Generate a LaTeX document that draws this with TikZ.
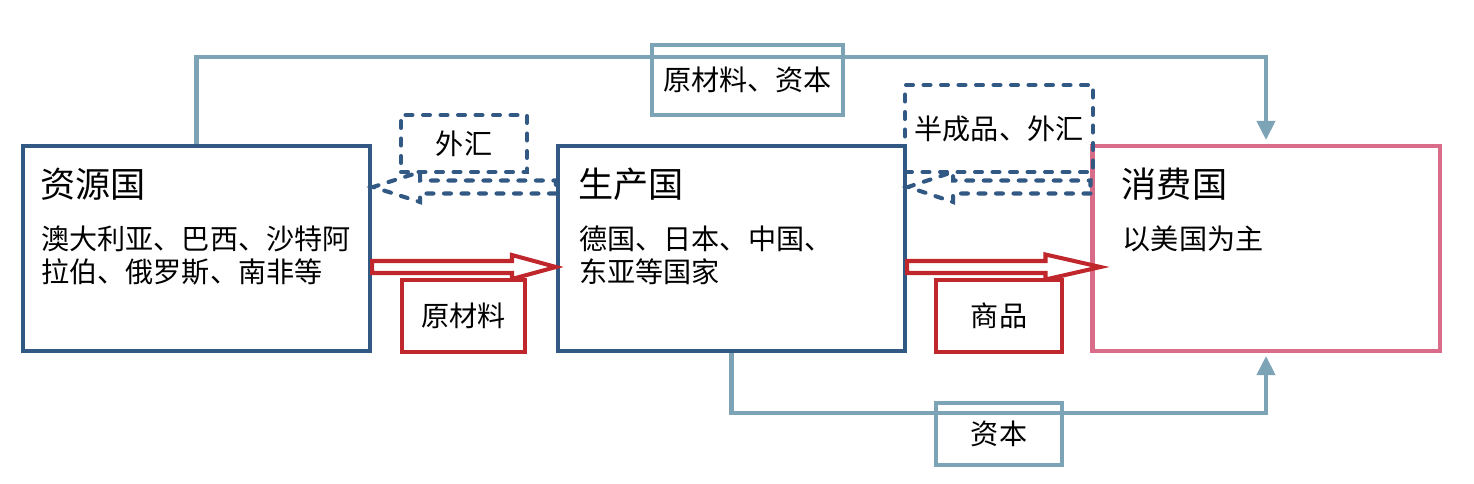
\documentclass[tikz,border=0pt]{standalone}
\usepackage{fontspec}
\newfontfamily\cjk{Noto Sans CJK SC}
\usepackage{xcolor}
\definecolor{Navy}{HTML}{325884}
\definecolor{Rose}{HTML}{D96C88}
\definecolor{Crimson}{HTML}{C0272D}
\definecolor{Steel}{HTML}{7DA3B7}
\usepackage{tikz}
\usetikzlibrary{arrows.meta,calc}

% block arrow from tail #2 to tip #3: half body #4, half head #5, head length #6
\newcommand{\blockarrow}[6]{%
  \coordinate (ba-h) at ($(#3)!#6!(#2)$);
  \draw[#1] ($(#2)!#4!90:(#3)$) -- ($(ba-h)!#4!90:(#3)$) -- ($(ba-h)!#5!90:(#3)$) -- (#3)
     -- ($(ba-h)!#5!-90:(#3)$) -- ($(ba-h)!#4!-90:(#3)$) -- ($(#2)!#4!-90:(#3)$) -- cycle;}

\begin{document}
\begin{tikzpicture}[
    >={Triangle[length=0.38cm,width=0.36cm]},
    country/.style={draw=Navy,line width=2.3pt,minimum width=6.94cm,minimum height=4.10cm,inner sep=0},
    head/.style={font=\cjk\fontsize{20}{24}\selectfont,anchor=base west,inner sep=0},
    body/.style={font=\cjk\fontsize{16}{18.7}\selectfont,align=left,anchor=base west,inner sep=0},
    tag/.style={font=\cjk\fontsize{16}{19}\selectfont,line width=2.3pt,inner sep=0},
    goods/.style={draw=Crimson,line width=2.3pt,line join=miter},
    money/.style={draw=Navy,line width=2.3pt,line cap=round,dash pattern=on 0.14cm off 0.21cm},
    capital/.style={draw=Steel,line width=2.3pt,->},
  ]
  \useasboundingbox (0,0) rectangle (29.48,9.66);

  % ---------- the three kinds of country ----------
  \node[country] (res) at (3.93,4.69) {};
  \node[country] (prod) at (14.63,4.69) {};
  \node[country,draw=Rose] (cons) at (25.32,4.69) {};

  \node[head] (resT) at ([shift={(0.38,-1.07)}]res.north west) {资源国};
  \node[body] (resB) at ([shift={(0.40,-2.77)}]res.north west) {澳大利亚、巴西、沙特阿\\拉伯、俄罗斯、南非等};
  \node[head] (prodT) at ([shift={(0.44,-1.07)}]prod.north west) {生产国};
  \node[body] (prodB) at ([shift={(0.46,-2.77)}]prod.north west) {德国、日本、中国、\\东亚等国家};
  \node[head] (consT) at ([shift={(0.62,-1.07)}]cons.north west) {消费国};
  \node[body] (consB) at ([shift={(0.64,-2.11)}]cons.north west) {以美国为主};

  % ---------- goods flow (red block arrows) ----------
  \coordinate (g1s) at (res.east |- 0,4.32);
  \coordinate (g1e) at (prod.west |- 0,4.32);
  \coordinate (g2s) at (prod.east |- 0,4.32);
  \coordinate (g2e) at ([xshift=0.2cm]cons.west |- 0,4.32);
  \blockarrow{goods}{g1s}{g1e}{0.12cm}{0.24cm}{0.88cm}
  \blockarrow{goods}{g2s}{g2e}{0.12cm}{0.25cm}{1.10cm}
  \node[tag,draw=Crimson,minimum width=2.46cm,minimum height=1.44cm] (raw) at (9.27,3.34) {原材料};
  \node[tag,draw=Crimson,minimum width=2.52cm,minimum height=1.44cm] (ware) at (19.98,3.34) {商品};

  % ---------- money flow back (dashed block arrows) ----------
  \coordinate (m1s) at (prod.west |- 0,5.92);
  \coordinate (m1e) at ([xshift=0.02cm]res.east |- 0,5.92);
  \coordinate (m2s) at (cons.west |- 0,5.92);
  \coordinate (m2e) at ([xshift=0.02cm]prod.east |- 0,5.92);
  \blockarrow{money}{m1s}{m1e}{0.13cm}{0.30cm}{0.94cm}
  \blockarrow{money}{m2s}{m2e}{0.13cm}{0.30cm}{0.90cm}
  \node[tag,money,minimum width=2.52cm,minimum height=1.14cm] (fx) at (9.28,6.79) {外汇};
  \node[tag,money,minimum width=3.76cm,minimum height=1.74cm] (semi) at (19.98,7.09) {半成品、外汇};

  % ---------- capital (light blue connectors) ----------
  \draw[capital,shorten >=0.08cm] (res.north) -- ++(0,1.74) -| (cons.north);
  \draw[capital,shorten >=0.06cm] (prod.south) -- ++(0,-1.20) -| (cons.south);
  \node[tag,draw=Steel,minimum width=3.82cm,minimum height=1.40cm] (capT) at (14.95,8.06) {原材料、资本};
  \node[tag,draw=Steel,minimum width=2.52cm,minimum height=1.24cm] (capB) at (19.98,0.98) {资本};
\end{tikzpicture}
\end{document}
